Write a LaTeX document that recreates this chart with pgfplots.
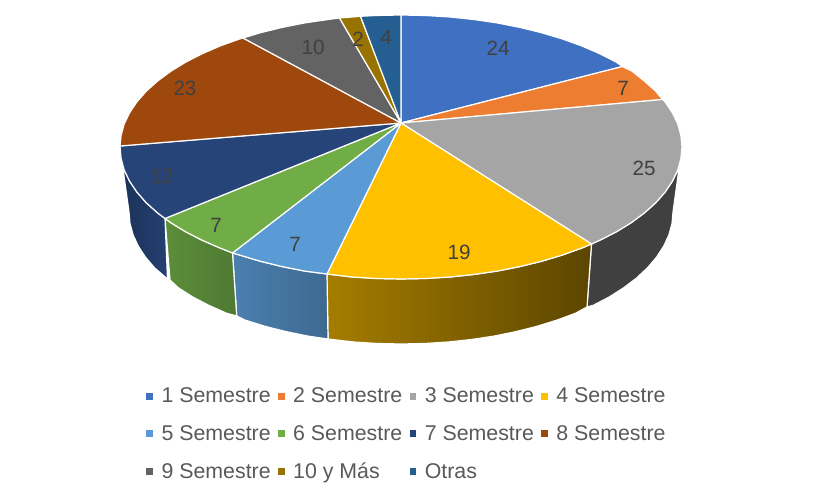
\documentclass[border=0pt]{standalone}
\usepackage{pgfplots}
\pgfplotsset{compat=1.18}
\usepackage{fontspec}
\setmainfont{Liberation Sans}
\definecolor{c1}{HTML}{4070C2}
\definecolor{c2}{HTML}{ED7D31}
\definecolor{c3}{HTML}{A5A5A5}
\definecolor{c4}{HTML}{FFC000}
\definecolor{c5}{HTML}{5B9BD5}
\definecolor{c6}{HTML}{70AD47}
\definecolor{c7}{HTML}{264478}
\definecolor{c8}{HTML}{9E480E}
\definecolor{c9}{HTML}{636363}
\definecolor{c10}{HTML}{997300}
\definecolor{c11}{HTML}{255E91}
\definecolor{w3}{HTML}{404040}
\definecolor{ltxt}{HTML}{595959}
\definecolor{dtxt}{HTML}{404040}
\begin{document}
\begin{tikzpicture}
\begin{axis}[
  scale only axis, width=612.75pt, height=363pt,
  xmin=0, xmax=817, ymin=0, ymax=484, y dir=reverse,
  hide axis, clip=false,
  legend columns=4,
  legend cell align=left,
  legend image code/.code={\path[#1,draw=none] (0pt,-2.6pt) rectangle (5.2pt,2.6pt);},
  legend style={draw=none, fill=none, at={(axis cs:142,382)}, anchor=north west,
    font=\fontsize{16}{18}\selectfont, text=ltxt, row sep=11.6pt,
    /tikz/every even column/.append style={column sep=3.4pt},
    /tikz/every odd column/.append style={column sep=4.3pt}},
  every axis plot/.append style={draw=white, line width=0.9pt, line join=round},
]
% page corners
\addplot[draw=none, forget plot] coordinates {(0,0) (817,484)};
% side walls
\addplot[forget plot, fill=w3] coordinates {
 (682,147)(680.9,158.5)(677.8,170)(672.4,181.2)(665.1,192.1)(655.7,202.8)(644.3,213)(631.2,222.7)(616.2,231.9)(599.7,240.3)(591.5,244)(587,307)
 (593.3,305.3)(609.4,296.9)(623.8,287.7)(636.6,278)(647.5,267.8)(656.6,257.1)(663.7,246.2)(668.9,234.9)(672,223.5)(673,212)} -- cycle;
\addplot[forget plot, left color=c4!65!black, right color=c4!36!black] coordinates {
 (591.5,244)(581.7,248.1)(562.2,255.1)(541.5,261.3)(519.8,266.6)(497.1,271.1)(473.7,274.5)(449.9,277)(425.5,278.5)(401,279)(376.5,278.5)(352.1,277)(327,274)
 (328,339)(353.8,342)(377.3,343.5)(401,344)(424.7,343.5)(448.2,342)(471.4,339.5)(494,336.1)(516,331.6)(537,326.3)(557,320.1)(575.8,313.1)(587,307)} -- cycle;
\addplot[forget plot, left color=c5!82!black, right color=c5!68!black] coordinates {
 (327,274)(304.9,271.1)(282.2,266.6)(260.5,261.3)(239.8,255.1)(232.5,253)(236.7,316)(245,320.1)(265,326.3)(286,331.6)(308,336.1)(328,339)} -- cycle;
\addplot[forget plot, left color=c6!82!black, right color=c6!70!black] coordinates {
 (232.5,253)(220.3,248.1)(202.3,240.3)(185.8,231.9)(170.8,222.7)(165,218.5)(170,280)(178.2,287.7)(192.6,296.9)(208.7,305.3)(226.2,313.1)(236.7,316)} -- cycle;
\addplot[forget plot, left color=c7!72!black, right color=c7!95!black] coordinates {
 (165,218.5)(157.7,213)(146.3,202.8)(136.9,192.1)(129.6,181.2)(124.2,170)(121.1,158.5)(120,147)(129,212)(130,223.5)(133.1,234.9)(138.3,246.2)(145.4,257.1)(154.5,267.8)(167.5,279)} -- cycle;
% top face
\addplot[fill=c1] coordinates {(401,123)(401,15)(425.5,15.5)(449.9,17)(473.7,19.5)(497.1,22.9)(519.8,27.4)(541.5,32.7)(562.2,38.9)(581.7,45.9)(599.7,53.7)(616.2,62.1)(622.5,66.5)} -- cycle;
\addlegendentry{1 Semestre}
\addplot[fill=c2] coordinates {(401,123)(622.5,66.5)(632.2,71.3)(644.3,81)(655.7,91.2)(662.5,99.5)} -- cycle;
\addlegendentry{2 Semestre}
\addplot[fill=c3] coordinates {(401,123)(662.5,99.5)(665.1,101.9)(672.4,112.8)(677.8,124)(680.9,135.5)(682,147)(680.9,158.5)(677.8,170)(672.4,181.2)(665.1,192.1)(655.7,202.8)(644.3,213)(631.2,222.7)(616.2,231.9)(599.7,240.3)(591.5,244)} -- cycle;
\addlegendentry{3 Semestre}
\addplot[fill=c4] coordinates {(401,123)(591.5,244)(581.7,248.1)(562.2,255.1)(541.5,261.3)(519.8,266.6)(497.1,271.1)(473.7,274.5)(449.9,277)(425.5,278.5)(401,279)(376.5,278.5)(352.1,277)(327,274)} -- cycle;
\addlegendentry{4 Semestre}
\addplot[fill=c5] coordinates {(401,123)(327,274)(304.9,271.1)(282.2,266.6)(260.5,261.3)(239.8,255.1)(232.5,253)} -- cycle;
\addlegendentry{5 Semestre}
\addplot[fill=c6] coordinates {(401,123)(232.5,253)(220.3,248.1)(202.3,240.3)(185.8,231.9)(170.8,222.7)(165,218.5)} -- cycle;
\addlegendentry{6 Semestre}
\addplot[fill=c7] coordinates {(401,123)(165,218.5)(157.7,213)(146.3,202.8)(136.9,192.1)(129.6,181.2)(124.2,170)(121.1,158.5)(120,146)} -- cycle;
\addlegendentry{7 Semestre}
\addplot[fill=c8] coordinates {(401,123)(120,146)(121.1,135.5)(124.2,124)(129.6,112.8)(136.9,101.9)(146.3,91.2)(157.7,81)(170.8,71.3)(185.8,62.1)(202.3,53.7)(220.3,45.9)(239.8,38.9)(243,38)} -- cycle;
\addlegendentry{8 Semestre}
\addplot[fill=c9] coordinates {(401,123)(243,38)(260.5,32.7)(282.2,27.4)(304.9,22.9)(328.3,19.5)(339.5,18)} -- cycle;
\addlegendentry{9 Semestre}
\addplot[fill=c10] coordinates {(401,123)(339.5,18)(352.1,17)(360.5,16.3)} -- cycle;
\addlegendentry{10 y Más}
\addplot[fill=c11] coordinates {(401,123)(360.5,16.3)(376.5,15.5)(401,15)} -- cycle;
\addlegendentry{Otras}
% values
\addplot[forget plot, draw=none, mark=none, nodes near coords, point meta=explicit symbolic,
  every node near coord/.append style={anchor=center, inner sep=0pt, text=dtxt,
    font=\fontsize{15.5}{17}\selectfont}]
 table[meta=v] {
 x y v
 498 48 24
 623 88 7
 644 168 25
 459 252 19
 295 244 7
 216 225 7
 162 176 12
 185 88 23
 313 47 10
 358 39 2
 386 37 4
};
\end{axis}
\end{tikzpicture}
\end{document}
